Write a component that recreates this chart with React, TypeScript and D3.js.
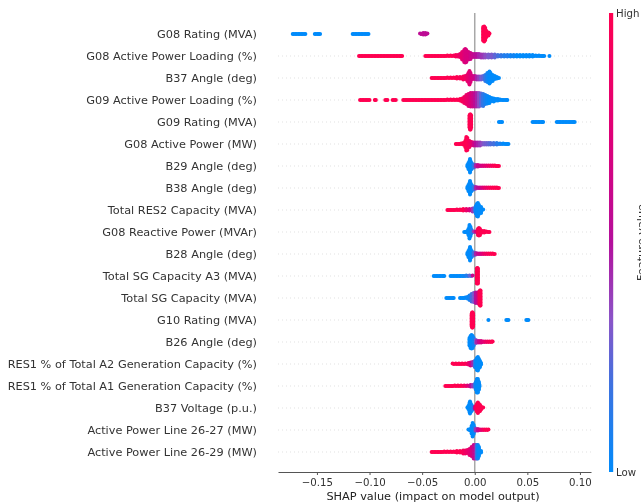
import * as d3 from "d3";
import { useEffect, useRef } from "react";

const outputWidth = 641;
const outputHeight = 502;

const features = [
  "G08 Rating (MVA)",
  "G08 Active Power Loading (%)",
  "B37 Angle (deg)",
  "G09 Active Power Loading (%)",
  "G09 Rating (MVA)",
  "G08 Active Power (MW)",
  "B29 Angle (deg)",
  "B38 Angle (deg)",
  "Total RES2 Capacity (MVA)",
  "G08 Reactive Power (MVAr)",
  "B28 Angle (deg)",
  "Total SG Capacity A3 (MVA)",
  "Total SG Capacity (MVA)",
  "G10 Rating (MVA)",
  "B26 Angle (deg)",
  "RES1 % of Total A2 Generation Capacity (%)",
  "RES1 % of Total A1 Generation Capacity (%)",
  "B37 Voltage (p.u.)",
  "Active Power Line 26-27 (MW)",
  "Active Power Line 26-29 (MW)",
];

const xTicks = [-0.15, -0.1, -0.05, 0, 0.05, 0.1];

// swarm columns: [SHAP x 1000, half height of the stack, feature value 0-1]
type Col = [number, number, number];

const g08Rating: Col[] = [
  [-173,0,0],[-170,0,0],[-167,0,0],[-164,0,0],[-161,0,0],[-152,0,0],[-149,0,0],[-147,0,0],
  [-116,0,0],[-113,0,0],[-110,0,0],[-107,0,0],[-104,0,0],[-101,0,0],
  [-52,.5,.55],[-49,1,.55],[-47,1,.55],[-45,.5,.55],
  [8,7,1],[9,7.5,1],[10,6,1],[11,3,1],[13,1.5,1],[14,.5,1],
];
const g08Loading: Col[] = [
  [-110,0,1],[-107,0,1],[-104,0,1],[-101,0,1],[-98,0,1],[-95,0,1],[-92,0,1],[-89,0,1],[-86,0,1],[-83,0,1],[-80,0,1],[-77,0,1],[-74,0,1],[-71,0,1],[-69,0,1],
  [-47,0,1],[-44,0,1],[-41,0,1],[-38,0,1],[-35,0,1],[-32,0,1],[-29,0,1],[-26,.5,1],[-23,.5,1],
  [-20,.5,.95],[-18,1,.95],[-16,1,.9],[-14,2,.85],[-12,4,.8],[-10,6,.75],[-9,7,.72],[-8,6,.7],[-6,4,.7],[-4,3,.65],[-2,2,.6],
  [0,2,.55],[2,2,.5],[4,2,.45],[6,1.5,.42],[8,1.5,.4],[10,1.5,.35],[13,1.5,.3],[16,1.5,.3],[19,1.5,.25],[22,1,.2],[25,1,.15],[28,1,.1],[31,1,.1],[34,1,.05],[37,1,.05],
  [40,1,0],[43,1,0],[46,1,0],[49,1,0],[52,1,0],[55,1,0],[58,.5,0],[61,.5,0],[64,0,0],[66,0,0],[71,0,0],
];
const b37Angle: Col[] = [
  [-41,0,1],[-38,0,1],[-35,0,1],[-32,0,1],[-29,0,1],[-26,.5,1],[-23,.5,1],[-20,.5,1],[-17,1,1],[-14,1,.95],[-11,1.5,.95],[-9,2,.9],
  [-7,3,.85],[-6,5,.8],[-5,7,.78],[-4,5,.72],[-2,2,.68],[0,2,.6],[2,1.5,.45],[4,1.5,.38],[6,1.5,.3],[8,2,.25],[10,3,.15],[12,5,.05],[14,6.5,0],[15,5,0],[17,3,0],[19,2,0],[21,1,0],[23,0,0],
];
const g09Loading: Col[] = [
  [-109,0,1],[-106,0,1],[-103,0,1],[-100,0,1],[-95,0,1],[-94,0,1],
  [-85,0,1],[-83,0,1],[-78,0,1],[-75,0,1],
  [-68,0,1],[-65,0,1],[-62,0,1],[-59,0,1],[-56,0,1],[-53,0,1],[-50,0,1],[-47,0,1],[-44,0,1],[-41,0,1],[-38,0,1],[-35,0,1],[-32,0,1],[-29,0,1],[-26,.5,1],[-23,.5,1],[-20,.5,1],[-17,.5,1],[-14,1,1],
  [-12,1.5,.95],[-10,3,.9],[-8,5,.85],[-6,6,.8],[-4,7,.72],[-2,7,.65],[0,7,.55],[2,7,.45],[4,7,.35],[6,6.5,.25],[8,6,.15],[10,5,.08],[12,4,.03],[14,3,0],[16,2,0],[18,1.5,0],[20,1,0],[22,1,0],[24,.5,0],[27,0,0],[30,0,0],[31,0,0],
];
const g09Rating: Col[] = [
  [-5,6.5,1],[-4.5,7.5,1],[-4,7.5,1],[-3.5,6.5,1],
  [23,0,0],[26,0,0],
  [55,0,0],[58,0,0],[61,0,0],[64,0,0],[65,0,0],
  [78,0,0],[81,0,0],[84,0,0],[87,0,0],[90,0,0],[93,0,0],[95,0,0],
];
const g08Power: Col[] = [
  [-18,0,1],[-15,0,1],[-13,.5,1],[-11,1,1],[-9,3,1],[-8,7,1],[-7,6,.98],[-5,3,.92],[-3,2,.82],[-1,1.5,.65],[1,1.5,.5],[3,1.5,.45],[5,1.5,.4],[7,1,.35],[9,1,.3],[11,1,.28],[13,1,.25],[15,1,.22],[18,1,.2],[21,1,.12],[24,.5,.06],[27,.5,0],[30,0,0],[32,0,0],
];
const b29Angle: Col[] = [
  [-7,1,0],[-6,3,0],[-5,5,0],[-4.5,7,0],[-4,5,0],[-3,3,0],[-1,1.5,.15],[1,1,.45],[3,1,.6],[5,.5,.65],[7,.5,.7],[9,.5,.75],[11,.5,.8],[13,.5,.85],[15,.5,.9],[17,.5,.95],[19,.5,1],[21,0,1],[23,0,1],
];
const b38Angle: Col[] = [
  [-7,1,0],[-6,3,0],[-5,5,0],[-4.5,7,0],[-4,5,0],[-3,3,0],[-1,1.5,.15],[1,1,.45],[3,.5,.55],[5,.5,.6],[7,.5,.7],[9,.5,.8],[11,.5,.85],[13,.5,.9],[15,.5,.95],[17,.5,1],[19,.5,1],[21,.5,1],[23,0,1],
];
const res2Capacity: Col[] = [
  [-26,0,1],[-23,0,1],[-20,0,1],[-17,.5,1],[-14,.5,1],[-11,1,1],[-8,1,.85],[-5,1,.7],[-2,1.5,.4],[0,2,.2],[1,4,.05],[2,6,0],[3,7,0],[4,5,0],[6,3,0],[8,.5,0],
];
const g08Reactive: Col[] = [
  [-10,0,0],[-8,0,0],[-7,1,0],[-6,3,0],[-5,7,0],[-4,5,0],[-3,2,.1],[-1,.5,.4],[1,.5,.7],[3,3,.95],[4,4,1],[5,3,1],[7,1,1],[9,1,1],[11,.5,1],[14,0,1],
];
const b28Angle: Col[] = [
  [-7,1,0],[-6,3,0],[-5,5,0],[-4.5,7,0],[-4,5,0],[-3,3,0],[-1,1.5,.2],[1,1,.45],[3,.5,.6],[5,.5,.65],[7,.5,.75],[9,.5,.85],[11,.5,.9],[13,.5,.95],[15,.5,1],[17,.5,1],[19,0,1],
];
const sgCapacityA3: Col[] = [
  [-39,0,0],[-36,0,0],[-33,0,0],[-30,0,0],[-29,0,0],
  [-23,0,0],[-20,0,0],[-17,0,0],[-14,0,0],[-11,0,.03],[-8,.5,.1],[-5,.5,.25],[-2,.5,.6],
  [2,7.5,1],[2.5,8,1],[3,7.5,1],
];
const sgCapacity: Col[] = [
  [-27,0,0],[-24,0,0],[-21,0,0],[-20,0,0],
  [-14,0,0],[-11,0,0],[-9,.5,0],[-7,1,.03],[-5,2.5,.05],[-3,4,.2],[-1,5,.3],[1,5.5,.5],[3,5.5,.65],[4,6,.8],[5,7.5,1],[5.5,7.5,1],
];
const g10Rating: Col[] = [
  [-3,6,1],[-2.5,7.5,1],[-2,7.5,1],[-1.5,6,1],
  [13,0,0],[30,0,0],[32,0,0],[49,0,0],[51,0,0],
];
const b26Angle: Col[] = [
  [-5,4,0],[-4,6,0],[-3,7,0],[-2,6,0],[-1,4,.05],[1,2,.3],[2,1,.45],[4,1,.6],[6,1,.7],[8,.5,.75],[10,.5,.85],[12,.5,.9],[14,.5,.95],[16,.5,1],[17,.5,1],
];
const res1A2: Col[] = [
  [-21,.5,1],[-18,.5,1],[-15,.5,1],[-12,.5,1],[-9,.5,.98],[-6,1,.85],[-4,1.5,.7],[-2,2,.45],[0,3,.2],[1,4,.05],[2,6,0],[3,7,0],[4,5,0],[5,3,0],[6,1,0],
];
const res1A1: Col[] = [
  [-28,0,1],[-25,0,1],[-22,0,1],[-19,.5,1],[-16,.5,1],[-13,.5,1],[-10,.5,.9],[-7,.5,.75],[-4,1,.55],[-2,1,.4],[0,2,.2],[1,4,.05],[2,7,0],[3,7,0],[4,4,0],[4.5,1,0],
];
const b37Voltage: Col[] = [
  [-7,.5,0],[-6,2,0],[-5,5,0],[-4.5,6.5,0],[-4,5,0],[-3,3,0],[-2,1.5,.1],[0,1,.5],[1,2,.85],[2,4,1],[3,5.5,1],[4,4,1],[5,3,1],[6,1.5,1],[8,.5,1],
];
const line2627: Col[] = [
  [-6,.5,0],[-4,1,0],[-3,4,0],[-2,7,0],[-1,5,0],[0,2,.1],[1,1,.4],[3,1,.6],[5,.5,.75],[7,.5,.85],[9,.5,.95],[11,.5,1],[13,.5,1],
];
const line2629: Col[] = [
  [-41,0,1],[-38,0,1],[-35,0,1],[-32,0,1],[-29,.5,1],[-26,.5,1],[-23,.5,1],[-20,.5,1],[-17,1,1],[-14,1,1],[-11,1.5,.95],[-9,1.5,.9],[-7,2,.85],[-5,3,.78],[-3,5,.7],[-1,7,.6],[1,7,.45],[2,7,.2],[3,7,.05],[4,5,0],[6,1,0],
];

const swarms = [
  g08Rating, g08Loading, b37Angle, g09Loading, g09Rating, g08Power, b29Angle, b38Angle, res2Capacity, g08Reactive,
  b28Angle, sgCapacityA3, sgCapacity, g10Rating, b26Angle, res1A2, res1A1, b37Voltage, line2627, line2629,
];

const colorStops = ["#008bfb", "#3e72e0", "#8a55c8", "#b40f9c", "#dc007a", "#ff0051"];
const colorDomain = [0, 0.19, 0.33, 0.5, 0.72, 1];

const App = () => {
  const axisRef = useRef<SVGGElement>(null);

  const x = d3.scaleLinear().domain([-0.187, 0.1105]).range([278, 591]);
  const y = d3.scalePoint<string>().domain(features).range([34, 452]);
  const color = d3.scaleLinear<string>().domain(colorDomain).range(colorStops).clamp(true);
  const barY = d3.scaleLinear().domain([0, 1]).range([472, 13]);

  const stackStep = 1.5;
  const dotR = 2;
  const maxRunGap = 3.2; // columns closer than this read as one solid run

  useEffect(() => {
    // bottom axis
    const g = d3.select(axisRef.current);
    g.selectAll("*").remove();
    g.call(d3.axisBottom(x).tickValues(xTicks).tickFormat(d3.format(".2f")).tickSize(3).tickSizeOuter(0));
    g.select(".domain").attr("stroke", "#555").attr("stroke-width", 1);
    g.selectAll(".tick line").attr("stroke", "#555");
    g.selectAll(".tick text")
      .attr("y", 6.5)
      .attr("fill", "#333")
      .style("font-family", "'DejaVu Sans'")
      .style("font-size", "10.2px");
    // eslint-disable-next-line react-hooks/exhaustive-deps
  }, []);

  return (
    <svg
      width={outputWidth}
      height={outputHeight}
      style={{ position: "absolute", left: 0, top: 0, filter: "blur(0.5px)", fontFamily: "'DejaVu Sans'" }}
    >
      <defs>
        <linearGradient id="bar" x1="0" x2="0" y1="1" y2="0">
          {colorDomain.map((d, i) => (
            <stop key={i} offset={d} stopColor={colorStops[i]} />
          ))}
        </linearGradient>
      </defs>
      <rect width={outputWidth} height={outputHeight} fill="#fff" />

      {features.slice(1).map((f) => (
        <line key={f} x1={278} x2={591} y1={y(f)} y2={y(f)} stroke="#ccc" strokeWidth={0.6} strokeDasharray="1 3" />
      ))}

      <line x1={x(0)} x2={x(0)} y1={13} y2={472} stroke="#a8a8a8" strokeWidth={1.5} />

      {features.map((f, row) => (
        <g key={f}>
          {swarms[row].map(([shap, half, value], i) => {
            const next = swarms[row][i + 1];
            const stack = d3.range(-half, half + 0.01, stackStep);
            return (
              <g key={i}>
                {next && next[0] - shap <= maxRunGap && (
                  <line
                    x1={x(shap / 1000)}
                    x2={x(next[0] / 1000)}
                    y1={y(f)}
                    y2={y(f)}
                    stroke={color(value)}
                    strokeWidth={dotR * 1.9}
                  />
                )}
                {stack.map((off, j) => (
                  <circle key={j} cx={x(shap / 1000)} cy={(y(f) as number) + off} r={dotR} fill={color(value)} />
                ))}
              </g>
            );
          })}
          <text x={257} y={y(f)} dy="0.35em" textAnchor="end" fontSize={11.3} fill="#333">
            {f}
          </text>
        </g>
      ))}

      <g ref={axisRef} transform="translate(0,472)" />
      <text x={433} y={500} textAnchor="middle" fontSize={11.3} fill="#222">
        SHAP value (impact on model output)
      </text>

      <rect x={609} y={barY(1)} width={4.2} height={barY(0) - barY(1)} fill="url(#bar)" />
      <text x={616} y={barY(1)} dy="0.35em" fontSize={10.2} fill="#333">
        High
      </text>
      <text x={616} y={barY(0)} dy="0.35em" fontSize={10.2} fill="#333">
        Low
      </text>
      <text
        transform={`translate(645,${barY(0.5)}) rotate(-90)`}
        textAnchor="middle"
        fontSize={11.3}
        fill="#333"
      >
        Feature value
      </text>
    </svg>
  );
};

export default App;
